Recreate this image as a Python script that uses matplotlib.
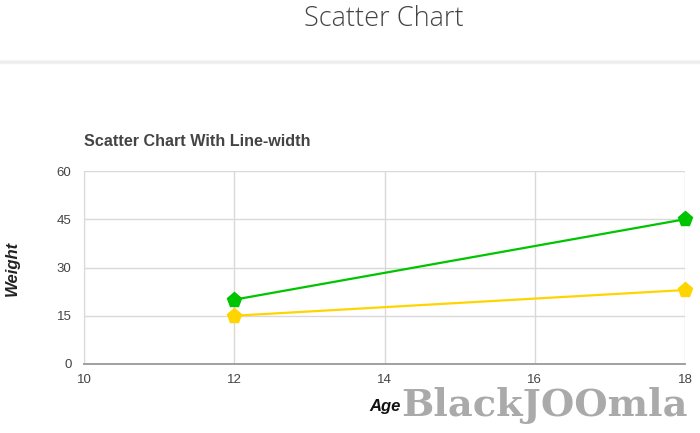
import matplotlib.pyplot as plt
from matplotlib.lines import Line2D

# data
ages = [12, 18]
weight_green = [20, 45]
weight_yellow = [15, 23]
x_ticks = [10, 12, 14, 16, 18]
y_ticks = [0, 15, 30, 45, 60]

fig = plt.figure(figsize=(7, 4.33), dpi=100)
fig.patch.set_facecolor('white')

# page header
fig.text(384 / 700, 1 - 19 / 433, 'Scatter Chart', ha='center', va='center',
         fontsize=19.5, family='Open Sans', fontweight='light', color='#444444')
for i, c in enumerate(['#f7f7f7', '#efefef', '#ebebeb', '#f2f2f2']):
    y = 1 - (60 + i) / 433
    fig.add_artist(Line2D([0, 1], [y, y], transform=fig.transFigure, color=c, lw=1))

ax = fig.add_axes([84 / 700, 1 - 364 / 433, 601 / 700, 193 / 433])
ax.plot(ages, weight_green, color='#00c400', lw=1.6, marker='p', markersize=11,
        zorder=3, clip_on=False)
ax.plot(ages, weight_yellow, color='#ffd500', lw=1.6, marker='p', markersize=11,
        zorder=3, clip_on=False)

ax.set_xlim(10, 18)
ax.set_ylim(0, 60)
ax.set_xticks(x_ticks)
ax.set_yticks(y_ticks)
ax.grid(True, color='#d9d9d9', lw=1)
ax.set_axisbelow(True)
for s in ['top', 'right']:
    ax.spines[s].set_visible(False)
ax.spines['left'].set_color('#d9d9d9')
ax.spines['bottom'].set_color('#999999')
ax.spines['bottom'].set_linewidth(1.3)
ax.tick_params(length=0, labelsize=9.5, labelcolor='#444444')
for lab in ax.get_xticklabels() + ax.get_yticklabels():
    lab.set_family('Liberation Sans')
ax.tick_params(axis='y', pad=9)
ax.tick_params(axis='x', pad=7)

fig.text(84 / 700, 1 - 142 / 433, 'Scatter Chart With Line-width', ha='left', va='center',
         fontsize=11.6, fontweight='bold', family='Liberation Sans', color='#444444')
fig.text(12 / 700, 1 - 268 / 433, 'Weight', rotation=90, ha='center', va='center',
         fontsize=12, fontweight='bold', style='italic', family='Liberation Sans', color='#222222')
fig.text(385 / 700, 1 - 406 / 433, 'Age', ha='center', va='center',
         fontsize=12, fontweight='bold', style='italic', family='Liberation Sans', color='#111111')

# watermark
fig.text(401 / 700, 1 - 405 / 433, 'BlackJOOmla', ha='left', va='center',
         fontsize=27.5, fontweight='bold', family='DejaVu Serif', color='#aaaaaa')

fig.savefig('out.png', dpi=100)
